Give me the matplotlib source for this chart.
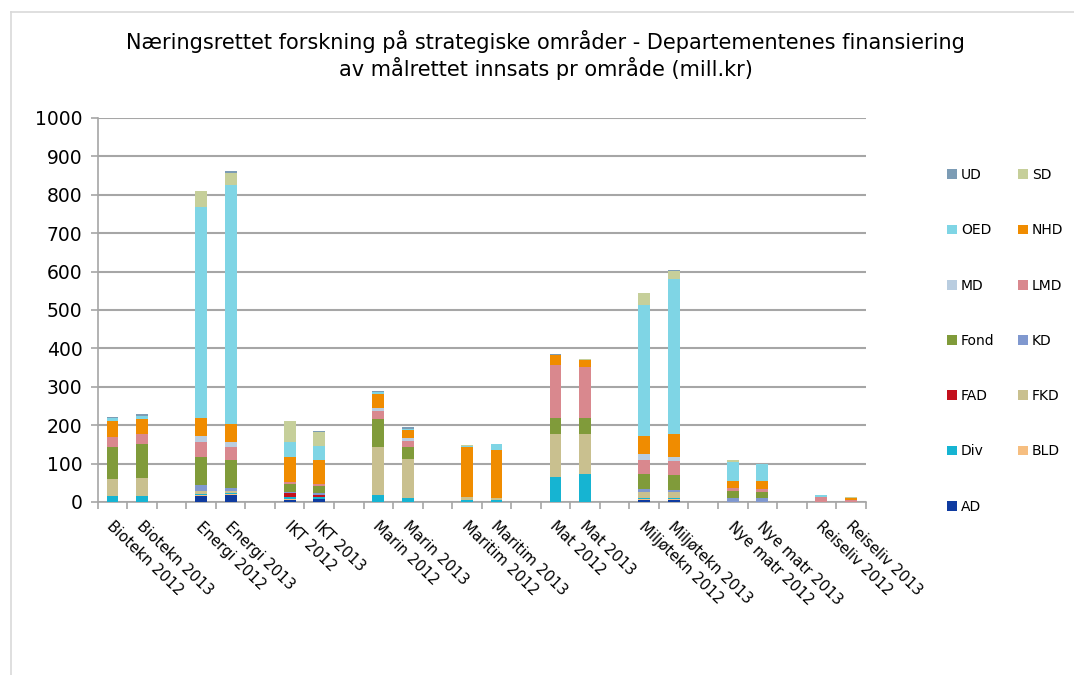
import matplotlib
matplotlib.use('Agg')
import matplotlib.pyplot as plt
import matplotlib.transforms as mtransforms
from matplotlib.lines import Line2D

# kategorier (år per område)
categories = ['Biotekn 2012', 'Biotekn 2013', 'Energi 2012', 'Energi 2013',
              'IKT 2012', 'IKT 2013', 'Marin 2012', 'Marin 2013',
              'Maritim 2012', 'Maritim 2013', 'Mat 2012', 'Mat 2013',
              'Miljøtekn 2012', 'Miljøtekn 2013', 'Nye matr 2012', 'Nye matr 2013',
              'Reiseliv 2012', 'Reiseliv 2013']

# mill. kr per departement (stablet nedenfra)
AD   = [0, 0, 16, 17, 5, 7, 0, 0, 0, 0, 0, 0, 6, 6, 0, 0, 0, 0]
BLD  = [0, 0, 3, 3, 3, 2, 0, 0, 0, 0, 0, 0, 2, 2, 0, 0, 0, 0]
Div  = [15, 15, 3, 3, 4, 5, 18, 11, 5, 4, 65, 72, 3, 3, 0, 0, 0, 0]
FKD  = [46, 48, 6, 5, 2, 0, 124, 102, 9, 6, 112, 105, 14, 16, 0, 0, 0, 0]
FAD  = [0, 0, 0, 0, 10, 5, 0, 0, 0, 0, 0, 0, 0, 0, 0, 0, 0, 0]
KD   = [0, 0, 15, 9, 3, 4, 0, 0, 0, 0, 0, 0, 10, 4, 10, 10, 0, 0]
Fond = [82, 87, 73, 72, 21, 19, 73, 31, 0, 0, 43, 43, 37, 39, 19, 17, 0, 0]
LMD  = [25, 26, 41, 34, 4, 4, 22, 16, 0, 0, 137, 132, 38, 37, 7, 6, 13, 5]
MD   = [0, 0, 16, 14, 0, 0, 9, 6, 0, 0, 0, 0, 14, 11, 0, 0, 0, 0]
NHD  = [43, 41, 46, 47, 66, 63, 34, 22, 129, 126, 26, 18, 48, 60, 19, 22, 1, 6]
OED  = [8, 7, 549, 622, 37, 37, 7, 2, 2, 16, 0, 0, 341, 403, 49, 43, 3, 0]
SD   = [0, 0, 41, 32, 55, 37, 0, 0, 3, 0, 0, 3, 30, 20, 6, 2, 0, 1]
UD   = [2, 4, 0, 3, 2, 2, 2, 5, 0, 0, 2, 0, 2, 2, 0, 0, 1, 0]

series = [('AD', AD, '#0f3ba0'), ('BLD', BLD, '#f6be80'), ('Div', Div, '#16b4d2'),
          ('FKD', FKD, '#c9c08f'), ('FAD', FAD, '#c3101c'), ('KD', KD, '#8098cf'),
          ('Fond', Fond, '#809b3a'), ('LMD', LMD, '#d9888e'), ('MD', MD, '#b9cde0'),
          ('NHD', NHD, '#f08c00'), ('OED', OED, '#7fd5e5'), ('SD', SD, '#c6cf9a'),
          ('UD', UD, '#7c9cb5')]

plt.rcParams['font.family'] = 'DejaVu Sans'
fig = plt.figure(figsize=(10.74, 6.75), dpi=100)
ax = fig.add_axes([0.091, 0.2563, 0.715, 0.5689])

# to søyler per område, ett tomt felt mellom områdene
pos = [i + i // 2 for i in range(len(categories))]
bottom = [0] * len(categories)
handles = {}
for name, vals, col in series:
    b = ax.bar(pos, vals, 0.4, bottom=bottom, color=col, label=name, zorder=3)
    handles[name] = b
    bottom = [x + y for x, y in zip(bottom, vals)]

ax.set_xlim(-0.5, 25.5)
ax.set_ylim(0, 1000)
ax.set_yticks(range(0, 1001, 100))
ax.yaxis.grid(True, color='#a6a6a6', lw=1.5, zorder=0)
ax.tick_params(axis='y', labelsize=13.5, length=5, color='#a6a6a6', width=1.2, pad=6)
for s in ['top', 'right']:
    ax.spines[s].set_visible(False)
for s in ['left', 'bottom']:
    ax.spines[s].set_color('#a6a6a6')
    ax.spines[s].set_linewidth(1.2)

ax.set_xticks(pos)
ax.set_xticklabels(categories, rotation=-44, ha='left', va='center',
                   rotation_mode='anchor', fontsize=10.7)
ax.set_xticks([x - 0.5 for x in range(27)], minor=True)
ax.tick_params(axis='x', which='major', length=0, pad=16)
ax.tick_params(axis='x', which='minor', length=5, color='#a6a6a6', width=1.2)
off = mtransforms.ScaledTranslation(-3 / 100, 0, fig.dpi_scale_trans)
for lab in ax.get_xticklabels():
    lab.set_transform(lab.get_transform() + off)

fig.text(0.508, 1 - 55 / 675, 'Næringsrettet forskning på strategiske områder - Departementenes finansiering\n'
         'av målrettet innsats pr område (mill.kr)', ha='center', va='center',
         fontsize=15, linespacing=1.22)

# legend i rader: UD SD / OED NHD / ...
order = ['UD', 'OED', 'MD', 'Fond', 'FAD', 'Div', 'AD', 'SD', 'NHD', 'LMD', 'KD', 'FKD', 'BLD']
fig.legend([handles[n] for n in order], order, ncol=2, loc='upper left',
           bbox_to_anchor=(947 / 1074, 1 - 168 / 675), frameon=False, fontsize=10,
           handlelength=0.7, handleheight=0.7, handletextpad=0.3,
           labelspacing=2.97, columnspacing=1.7, borderpad=0, borderaxespad=0)

# ramme rundt diagramområdet
fig.add_artist(Line2D([10.5 / 1074, 10.5 / 1074], [0, 1 - 12 / 675], color='#d9d9d9',
                      lw=1.2, transform=fig.transFigure))
fig.add_artist(Line2D([10.5 / 1074, 1], [1 - 12 / 675, 1 - 12 / 675], color='#d9d9d9',
                      lw=1.2, transform=fig.transFigure))

fig.savefig('out.png', dpi=100)
